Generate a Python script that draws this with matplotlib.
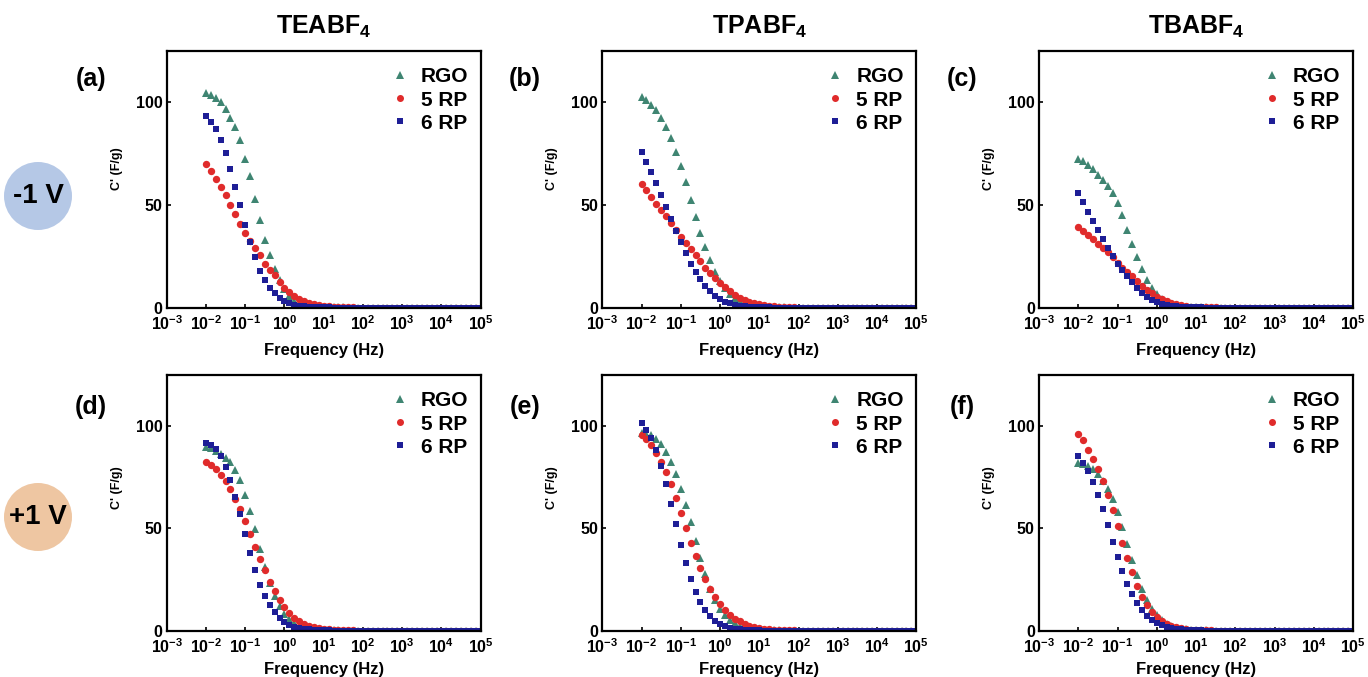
import matplotlib
matplotlib.use("Agg")
import matplotlib.pyplot as plt
from matplotlib.patches import Ellipse

plt.rcParams['font.family'] = ['Liberation Sans', 'DejaVu Sans']
plt.rcParams['font.weight'] = 'bold'
plt.rcParams['mathtext.fontset'] = 'custom'
plt.rcParams['mathtext.rm'] = 'Liberation Sans:bold'
plt.rcParams['mathtext.bf'] = 'Liberation Sans:bold'
plt.rcParams['mathtext.it'] = 'Liberation Sans:bold'

# ---------------- data ----------------
freq = [0.01, 0.01334, 0.01778, 0.02371, 0.03162, 0.04217, 0.05623, 0.07499,
        0.1, 0.1334, 0.1778, 0.2371, 0.3162, 0.4217, 0.5623, 0.7499,
        1, 1.334, 1.778, 2.371, 3.162, 4.217, 5.623, 7.499,
        10, 13.34, 17.78, 23.71, 31.62, 42.17, 56.23, 74.99,
        100, 133.4, 177.8, 237.1, 316.2, 421.7, 562.3, 749.9,
        1000, 1334, 1778, 2371, 3162, 4217, 5623, 7499,
        10000, 13340, 17780, 23710, 31620, 42170, 56230, 74990,
        100000]

zero_tail = [0, 0, 0, 0, 0, 0, 0, 0, 0, 0, 0, 0, 0, 0, 0, 0, 0, 0, 0, 0, 0, 0, 0, 0, 0]

a_rgo = [104.7, 103.6, 102.3, 100.3, 97, 92.5, 87.8, 81.5, 72.5, 64, 53, 42.5, 33, 25.5, 19, 13.5,
         9, 5.8, 3.5, 2.2, 1.4, 0.9, 0.6, 0.4, 0.3, 0.2, 0.15, 0.1, 0.1, 0.05, 0.05, 0.05] + zero_tail
a_5rp = [70, 66.5, 62.7, 58.8, 55, 50, 45.5, 41, 36.5, 32.5, 29, 25.5, 21.5, 18.5, 15.8, 12.5,
         9.8, 7.5, 5.8, 4.4, 3.3, 2.5, 1.8, 1.3, 0.9, 0.6, 0.45, 0.3, 0.2, 0.15, 0.1, 0.05] + zero_tail
a_6rp = [93.3, 90.6, 87, 81.5, 75.5, 67.5, 59, 50, 40.5, 32, 24.5, 18, 13.5, 9.8, 7, 4.8,
         3.2, 2.1, 1.4, 0.9, 0.6, 0.4, 0.3, 0.2, 0.1, 0.1, 0.05, 0.05, 0, 0, 0, 0] + zero_tail

b_rgo = [102.4, 100.9, 98.8, 96.3, 92.5, 88, 82.5, 76, 69, 61, 52.5, 44, 36.5, 29.5, 23, 17.5,
         13, 9.5, 6.8, 4.8, 3.3, 2.3, 1.6, 1.1, 0.8, 0.5, 0.35, 0.25, 0.15, 0.1, 0.05, 0.05] + zero_tail
b_5rp = [60.3, 57.3, 54, 50.6, 47.5, 44.5, 41.2, 37.8, 34.5, 31.5, 28.5, 25.5, 22.5, 19.5, 17, 14.5,
         12.2, 10, 8, 6.3, 4.9, 3.8, 2.9, 2.2, 1.6, 1.2, 0.9, 0.6, 0.45, 0.3, 0.2, 0.15] + zero_tail
b_6rp = [75.6, 71, 66, 60.5, 55, 49, 43, 37.5, 31.8, 26.5, 21.5, 17.3, 13.8, 10.7, 8, 5.9,
         4.3, 3, 2.1, 1.4, 1, 0.7, 0.5, 0.3, 0.2, 0.15, 0.1, 0.05, 0, 0, 0, 0] + zero_tail

c_rgo = [72.4, 71.3, 69.6, 67.3, 64.6, 62, 59.3, 56, 51.2, 45, 38, 31, 24.5, 18.7, 13.5, 9.5,
         6.5, 4.3, 2.8, 1.8, 1.2, 0.8, 0.5, 0.35, 0.25, 0.15, 0.1, 0.05, 0.05, 0, 0, 0] + zero_tail
c_5rp = [39.5, 37.5, 35.4, 33.3, 31, 29, 27, 24.8, 22, 19.5, 17.5, 15.2, 13, 10.8, 8.8, 7,
         5.4, 4.1, 3.1, 2.3, 1.6, 1.1, 0.8, 0.55, 0.4, 0.3, 0.2, 0.15, 0.1, 0.05, 0.05, 0] + zero_tail
c_6rp = [55.8, 51.5, 46.6, 42.3, 38, 33.6, 29.3, 25.2, 21.5, 18.3, 15.2, 12.3, 9.6, 7.4, 5.4, 3.9,
         2.8, 2, 1.4, 1, 0.7, 0.5, 0.35, 0.25, 0.15, 0.1, 0.05, 0.05, 0, 0, 0, 0] + zero_tail

d_rgo = [90, 89.3, 88, 86.5, 84.5, 82.5, 78.5, 73.5, 66.5, 58.5, 49.5, 40, 31, 23.5, 17, 12,
         8.3, 5.6, 3.8, 2.5, 1.7, 1.1, 0.75, 0.5, 0.35, 0.25, 0.15, 0.1, 0.05, 0.05, 0, 0] + zero_tail
d_5rp = [82.4, 80.9, 79, 76.3, 73, 69.3, 64.5, 59.5, 53.5, 47.5, 41, 35, 29.5, 24, 19.5, 15.2,
         11.5, 8.5, 6.3, 4.6, 3.3, 2.4, 1.7, 1.2, 0.85, 0.6, 0.4, 0.3, 0.2, 0.15, 0.1, 0.05] + zero_tail
d_6rp = [91.7, 90.8, 89, 85.2, 80, 73.5, 65.5, 57, 47.5, 38, 29.5, 22.5, 16.8, 12.5, 9, 6.2,
         4.2, 2.8, 1.9, 1.3, 0.9, 0.6, 0.4, 0.3, 0.2, 0.1, 0.05, 0.05, 0, 0, 0, 0] + zero_tail

e_rgo = [96.7, 96.3, 95.5, 93.6, 91.3, 87.5, 82.5, 76.5, 69.5, 61.5, 53, 44, 35.5, 27.5, 20.5, 15,
         10.8, 7.7, 5.4, 3.7, 2.5, 1.7, 1.2, 0.8, 0.55, 0.4, 0.25, 0.15, 0.1, 0.05, 0.05, 0] + zero_tail
e_5rp = [95.9, 93.7, 90.7, 87, 82.5, 77.5, 71.5, 65, 57.5, 50, 43, 36.5, 30.5, 25.5, 20.5, 16.5,
         13, 10, 7.7, 5.9, 4.5, 3.4, 2.5, 1.9, 1.4, 1, 0.7, 0.5, 0.35, 0.25, 0.15, 0.1] + zero_tail
e_6rp = [101.6, 98.3, 94.3, 88.5, 80.5, 71.5, 62, 52, 42, 33, 25.5, 19, 14, 10, 7, 4.8,
         3.3, 2.2, 1.5, 1, 0.7, 0.45, 0.3, 0.2, 0.1, 0.05, 0.05, 0, 0, 0, 0, 0] + zero_tail

f_rgo = [82.1, 81.6, 80.6, 78.9, 76.5, 73.3, 69.5, 64.5, 58, 50.5, 42.5, 34.5, 27, 20.5, 15, 10.8,
         7.5, 5.2, 3.5, 2.3, 1.5, 1, 0.7, 0.45, 0.3, 0.2, 0.1, 0.05, 0.05, 0, 0, 0] + zero_tail
f_5rp = [96.3, 93, 88.5, 84, 79, 73.3, 66.5, 59, 51, 43, 35.5, 28.5, 22, 16.7, 12.5, 9.2,
         6.6, 4.7, 3.3, 2.3, 1.6, 1.1, 0.75, 0.5, 0.35, 0.25, 0.15, 0.1, 0.05, 0.05, 0, 0] + zero_tail
f_6rp = [85.2, 82, 78.3, 72.8, 66.5, 59.5, 51.5, 43.5, 36, 29, 23, 18, 13.5, 10, 7.3, 5.3,
         3.8, 2.7, 1.9, 1.3, 0.9, 0.6, 0.4, 0.3, 0.2, 0.1, 0.05, 0.05, 0, 0, 0, 0] + zero_tail

panel_labels = ['(a)', '(b)', '(c)', '(d)', '(e)', '(f)']
column_titles = [r'TEABF$_\mathbf{4}$', r'TPABF$_\mathbf{4}$', r'TBABF$_\mathbf{4}$']
row_labels = ['-1 V', '+1 V']
series_names = ['RGO', '5 RP', '6 RP']
panels = [(a_rgo, a_5rp, a_6rp), (b_rgo, b_5rp, b_6rp), (c_rgo, c_5rp, c_6rp),
          (d_rgo, d_5rp, d_6rp), (e_rgo, e_5rp, e_6rp), (f_rgo, f_5rp, f_6rp)]
x_ticks = [1e-3, 1e-2, 1e-1, 1e0, 1e1, 1e2, 1e3, 1e4, 1e5]
x_tick_labels = [r'$\mathbf{10^{-3}}$', r'$\mathbf{10^{-2}}$', r'$\mathbf{10^{-1}}$',
                 r'$\mathbf{10^{0}}$', r'$\mathbf{10^{1}}$', r'$\mathbf{10^{2}}$',
                 r'$\mathbf{10^{3}}$', r'$\mathbf{10^{4}}$', r'$\mathbf{10^{5}}$']
y_ticks = [0, 50, 100]

# ---------------- styling ----------------
W, H = 1368, 677
fig = plt.figure(figsize=(W / 100, H / 100), dpi=100)

styles = [dict(marker='^', color='#3f8572', ms=6.0),
          dict(marker='o', color='#e02b2b', ms=5.3),
          dict(marker='s', color='#1e1e96', ms=4.8)]

lefts = [166.7, 602.3, 1039.0]
tops = [51.0, 375.0]
bottoms = [307.7, 630.7]
ax_w = 314.0

for idx, series in enumerate(panels):
    r, c = divmod(idx, 3)
    left = lefts[c] / W
    bottom = 1 - bottoms[r] / H
    height = (bottoms[r] - tops[r]) / H
    ax = fig.add_axes([left, bottom, ax_w / W, height])
    for name, ys, st in zip(series_names, series, styles):
        ax.plot(freq, ys, linestyle='none', marker=st['marker'], color=st['color'],
                markersize=st['ms'], markeredgewidth=0, label=name)
    ax.set_xscale('log')
    ax.set_xlim(1e-3, 1e5)
    ax.set_ylim(0, 125)
    ax.set_xticks(x_ticks)
    ax.set_xticklabels(x_tick_labels)
    ax.minorticks_off()
    ax.set_yticks(y_ticks)
    ax.set_yticklabels([str(v) for v in y_ticks])
    ax.tick_params(direction='in', length=3, width=1.2, labelsize=11.5)
    ax.tick_params(axis='x', pad=5)
    ax.tick_params(axis='y', pad=3)
    for lab in ax.get_yticklabels():
        lab.set_fontweight('bold')
    for sp in ax.spines.values():
        sp.set_linewidth(1.6)
    ax.set_xlabel('Frequency (Hz)', fontsize=12, fontweight='bold')
    ax.xaxis.set_label_coords(0.5, -0.138 if r == 0 else -0.122)
    ax.set_ylabel("C' (F/g)", fontsize=9, fontweight='bold')
    ax.yaxis.set_label_coords(-0.14, 0.54 if r == 0 else 0.56)
    ax.legend(loc='upper right', bbox_to_anchor=(1.0, 0.985), frameon=False,
              prop={'size': 15, 'weight': 'bold'}, handlelength=0.8,
              handletextpad=0.6, labelspacing=0.2, borderaxespad=0.2,
              markerscale=0.95)
    # panel label
    lx = [91, 525, 962][c]
    ly = [79, 407][r]
    fig.text(lx / W, 1 - ly / H, panel_labels[idx], fontsize=18, fontweight='bold',
             ha='center', va='center')

# column titles
for c, t in enumerate(column_titles):
    cx = (lefts[c] + ax_w / 2) / W
    fig.text(cx, 1 - 27 / H, t, fontsize=18, fontweight='bold', ha='center', va='center')

# row indicator circles
circle_info = [(38, 196, '#b5c8e6'), (38, 517, '#eec6a2')]
for (cx, cy, col), txt in zip(circle_info, row_labels):
    rad = 34
    e = Ellipse((cx / W, 1 - cy / H), 2 * rad / W, 2 * rad / H, transform=fig.transFigure,
                facecolor=col, edgecolor='none')
    fig.patches.append(e)
    fig.text(cx / W, 1 - cy / H, txt, fontsize=20, fontweight='bold', ha='center', va='center')

fig.savefig('out.png', dpi=100)
